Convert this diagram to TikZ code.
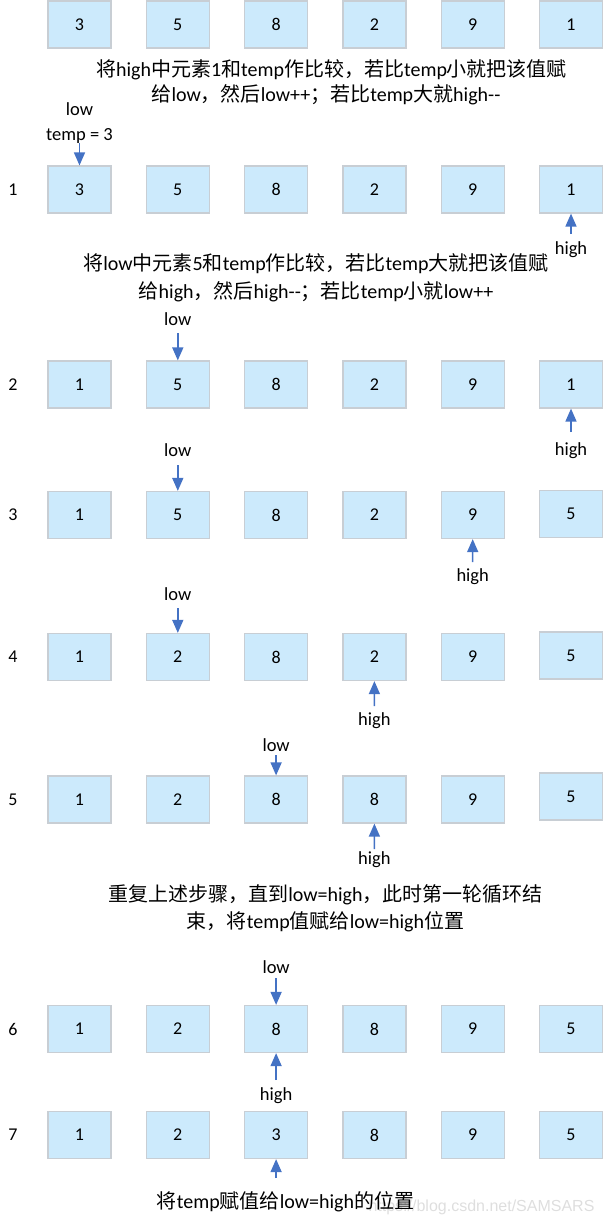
\documentclass[tikz,border=0pt]{standalone}
\usepackage{fontspec}
\setmainfont{Carlito}
\newfontfamily\cjk{Noto Sans CJK SC}
\newfontfamily\wmfont{Liberation Sans}
\usetikzlibrary{arrows.meta}
\definecolor{cellfill}{RGB}{204,234,252}
\definecolor{celldraw}{RGB}{200,206,212}
\definecolor{arrowblue}{RGB}{68,114,196}
\definecolor{wmgray}{RGB}{222,222,222}
\newcommand{\zh}[1]{{\cjk #1}}
\newcommand{\cellrow}[5]{%
  \foreach \v [count=\i] in {#3} {\node[cell] (#1-\i) at ({79.5+(\i-1)*98.3},#2) {\v};}
  \node[cell] (#1-6) at (571,#5) {#4};}
\begin{document}
\begin{tikzpicture}[x=1pt,y=-1pt,
  cell/.style={draw=celldraw, fill=cellfill, line width=1.2pt, minimum width=63pt,
    minimum height=47pt, inner sep=0pt, font=\fontsize{18}{20}\selectfont},
  rowlbl/.style={font=\fontsize{18}{20}\selectfont, inner sep=0pt},
  ptr/.style={font=\fontsize{18.5}{25}\selectfont, inner sep=0pt},
  note/.style={font=\fontsize{20}{25}\selectfont, inner sep=0pt},
  wm/.style={font=\wmfont\fontsize{16}{20}\selectfont, text=wmgray, inner sep=0pt},
  arr/.style={draw=arrowblue, line width=1.5pt, -{Triangle[width=11pt,length=13pt]}}
]
\useasboundingbox (0,0) rectangle (603,1227);

% rows of cells
\cellrow{r0}{24.5}{3,5,8,2,9}{1}{24.5}
\cellrow{r1}{189.5}{3,5,8,2,9}{1}{189.5}
\cellrow{r2}{384.5}{1,5,8,2,9}{1}{384.5}
\cellrow{r3}{515}{1,5,8,2,9}{5}{514}
\cellrow{r4}{657}{1,2,8,2,9}{5}{655.5}
\cellrow{r5}{799.5}{1,2,8,8,9}{5}{796.5}
\cellrow{r6}{1029}{1,2,8,8,9}{5}{1029}
\cellrow{r7}{1135}{1,2,3,8,9}{5}{1135}

% row numbers
\node[rowlbl] (n1) at (13,189.5) {1};
\node[rowlbl] (n2) at (13,384.5) {2};
\node[rowlbl] (n3) at (13,515) {3};
\node[rowlbl] (n4) at (13,657) {4};
\node[rowlbl] (n5) at (13,799.5) {5};
\node[rowlbl] (n6) at (13,1029) {6};
\node[rowlbl] (n7) at (13,1135) {7};

% explanatory notes
\node[note] (t1a) at (331.5,70) {\zh{将}high\zh{中元素}1\zh{和}temp\zh{作比较，若比}temp\zh{小就把该值赋}};
\node[note] (t1b) at (326,95) {\zh{给}low\zh{，然后}low++\zh{；若比}temp\zh{大就}high-{}-};
\node[note] (t2a) at (316,264) {\zh{将}low\zh{中元素}5\zh{和}temp\zh{作比较，若比}temp\zh{大就把该值赋}};
\node[note] (t2b) at (316,292) {\zh{给}high\zh{，然后}high-{}-\zh{；若比}temp\zh{小就}low++};
\node[note] (t3a) at (325.5,895) {\zh{重复上述步骤，直到}low=high\zh{，此时第一轮循环结}};
\node[note] (t3b) at (325.5,922) {\zh{束，将}temp\zh{值赋给}low=high\zh{位置}};
\node[wm] (wm) at (481.5,1207) {https://blog.csdn.net/SAMSARS};
\node[note] (t4) at (285.5,1202) {\zh{将}temp\zh{赋值给}low=high\zh{的位置}};

% pointer labels
\node[ptr, align=center] (p1) at (79.5,123) {low\\temp = 3};
\node[ptr] (h1) at (571,250) {high};
\node[ptr] (l2) at (177.8,319) {low};
\node[ptr] (h2) at (571,451) {high};
\node[ptr] (l3) at (177.8,450) {low};
\node[ptr] (h3) at (472.7,577) {high};
\node[ptr] (l4) at (177.8,594) {low};
\node[ptr] (h4) at (374.4,721) {high};
\node[ptr] (l5) at (276.1,745) {low};
\node[ptr] (h5) at (374.4,860) {high};
\node[ptr] (l6) at (276.1,967) {low};
\node[ptr] (h6) at (276.1,1096) {high};

% arrow tails
\coordinate (a1) at (79.5,143);
\coordinate (b1) at (571,234);
\coordinate (a2) at (177.8,333);
\coordinate (b2) at (571,432);
\coordinate (a3) at (177.8,465);
\coordinate (b3) at (472.7,562);
\coordinate (a4) at (177.8,608);
\coordinate (b4) at (374.4,706);
\coordinate (a5) at (276.1,755);
\coordinate (b5) at (374.4,849);
\coordinate (a6) at (276.1,978);
\coordinate (b6) at (276.1,1080);
\coordinate (b7) at (276.1,1178);

% arrows
\draw[arr] (a1) -- (r1-1.north);
\draw[arr] (b1) -- (r1-6.south);
\draw[arr] (a2) -- (r2-2.north);
\draw[arr] (b2) -- (r2-6.south);
\draw[arr] (a3) -- (r3-2.north);
\draw[arr] (b3) -- (r3-5.south);
\draw[arr] (a4) -- (r4-2.north);
\draw[arr] (b4) -- (r4-4.south);
\draw[arr] (a5) -- (r5-3.north);
\draw[arr] (b5) -- (r5-4.south);
\draw[arr] (a6) -- (r6-3.north);
\draw[arr] (b6) -- (r6-3.south);
\draw[arr] (b7) -- (r7-3.south);
\end{tikzpicture}
\end{document}
